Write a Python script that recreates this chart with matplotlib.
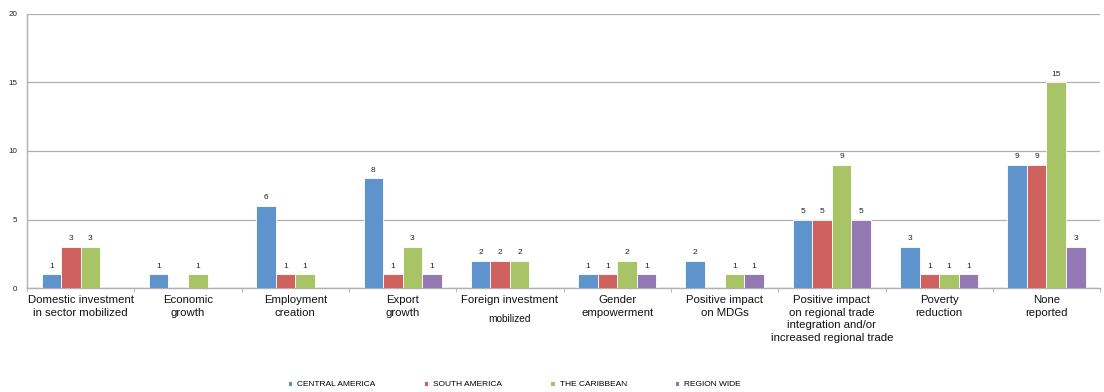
import numpy as np
import matplotlib

matplotlib.use('Agg')
import matplotlib.pyplot as plt

plt.rcParams['font.family'] = ['Liberation Sans', 'DejaVu Sans']

categories = [
    "Domestic investment\nin sector mobilized",
    "Economic\ngrowth",
    "Employment\ncreation",
    "Export\ngrowth",
    "Foreign investment",
    "Gender\nempowerment",
    "Positive impact\non MDGs",
    "Positive impact\non regional trade\nintegration and/or\nincreased regional trade",
    "Poverty\nreduction",
    "None\nreported",
]
series_names = ["CENTRAL AMERICA", "SOUTH AMERICA", "THE CARIBBEAN", "REGION WIDE"]
central_america = [1, 1, 6, 8, 2, 1, 2, 5, 3, 9]
south_america = [3, 0, 1, 1, 2, 1, 0, 5, 1, 9]
caribbean = [3, 1, 1, 3, 2, 2, 1, 9, 1, 15]
region_wide = [0, 0, 0, 1, 0, 1, 1, 5, 1, 3]
colors = ['#5F93CB', '#CF625E', '#A8C466', '#9379B4']

fig = plt.figure(figsize=(11.04, 3.92), dpi=100)
ax = fig.add_axes([0.0245, 0.2653, 0.972, 0.699])

x = np.arange(len(categories))
w = 0.182
all_series = [central_america, south_america, caribbean, region_wide]
for i, (vals, name, c) in enumerate(zip(all_series, series_names, colors)):
    pos = x + (i - 1.5) * w
    ax.bar(pos, vals, width=w, color=c, edgecolor='white', linewidth=0.6,
           label=name, zorder=3)
    # value labels only where a bar is drawn
    for p, v in zip(pos, vals):
        if v > 0:
            ax.text(p, v + 0.35, str(v), ha='center', va='bottom', fontsize=6,
                    color='#222222')

ax.set_xlim(-0.5, len(categories) - 0.5)
ax.set_ylim(0, 20)
ax.set_yticks([0, 5, 10, 15, 20])
ax.yaxis.grid(True, color='#b0b0b0', linewidth=0.9, zorder=0)
ax.tick_params(axis='y', length=0, labelsize=5.8, pad=7, labelcolor='#222222')
for s in ['top', 'right']:
    ax.spines[s].set_visible(False)
ax.spines['left'].set_color('#b0b0b0')
ax.spines['bottom'].set_color('#b0b0b0')
ax.spines['left'].set_linewidth(1.0)
ax.spines['bottom'].set_linewidth(1.0)

# category labels centred under each group, small ticks at group borders
ax.set_xticks(x)
ax.set_xticklabels(categories, fontsize=8.2, linespacing=1.33, color='#111111')
ax.tick_params(axis='x', length=0, pad=5)
ax.set_xticks(np.arange(len(categories) + 1) - 0.5, minor=True)
ax.tick_params(axis='x', which='minor', length=3, color='#b0b0b0')
ax.text(4, -1.9, "mobilized", ha='center', va='top', fontsize=7.3, color='#111111')

fig.legend(loc='lower center', bbox_to_anchor=(0.466, -0.01), ncol=4,
           frameon=False, fontsize=6, handlelength=0.5, handleheight=0.5,
           columnspacing=5.8, handletextpad=0.6)

fig.savefig('out.png', dpi=100)
